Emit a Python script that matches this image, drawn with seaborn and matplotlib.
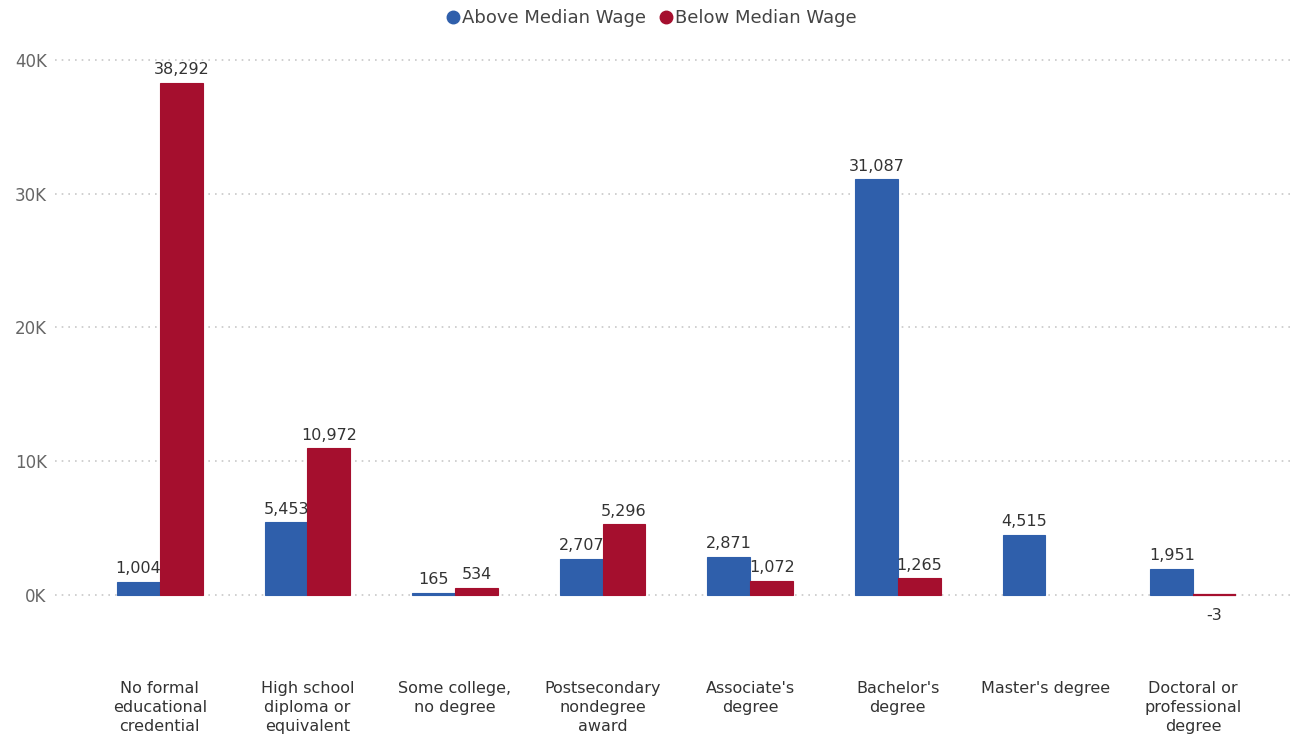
import numpy as np
import pandas as pd
import seaborn as sns
import matplotlib.pyplot as plt
from matplotlib.lines import Line2D

# chart data
categories = [
    "No formal\neducational\ncredential",
    "High school\ndiploma or\nequivalent",
    "Some college,\nno degree",
    "Postsecondary\nnondegree\naward",
    "Associate's\ndegree",
    "Bachelor's\ndegree",
    "Master's degree",
    "Doctoral or\nprofessional\ndegree",
]
above_median = [1004, 5453, 165, 2707, 2871, 31087, 4515, 1951]
below_median = [38292, 10972, 534, 5296, 1072, 1265, np.nan, -3]
series_names = ["Above Median Wage", "Below Median Wage"]
y_ticks = [0, 10000, 20000, 30000, 40000]
y_tick_labels = ["0K", "10K", "20K", "30K", "40K"]

blue = "#2F5FAB"
red = "#A50F2E"

df = pd.DataFrame({
    "category": categories * 2,
    "series": [series_names[0]] * len(categories) + [series_names[1]] * len(categories),
    "value": above_median + below_median,
})

sns.set_theme(style="white")
plt.rcParams["font.family"] = ["DejaVu Sans"]

fig = plt.figure(figsize=(12.96, 7.4), dpi=100)
ax = fig.add_axes([55 / 1296, 1 - 630 / 740, (1292 - 55) / 1296, (630 - 50) / 740])

sns.barplot(data=df, x="category", y="value", hue="series", order=categories,
            hue_order=series_names, palette=[blue, red], width=0.58, gap=0,
            saturation=1, errorbar=None, legend=False, ax=ax)

# edges in bar colour so tiny bars (like -3) still show as a thin line
for bar in ax.patches:
    bar.set_edgecolor(bar.get_facecolor())
    h = bar.get_height()
    bar.set_linewidth(1.6 if (not np.isnan(h) and abs(h) < 50) else 0.8)

ax.set_xlim(-0.71, 7.67)
ax.set_ylim(-35 * 74.77, 40000 + 10 * 74.77)
ax.set_yticks(y_ticks)
ax.set_yticklabels(y_tick_labels, color="#666666", fontsize=12)
for y in y_ticks:
    ax.axhline(y, color="#c8c8c8", linestyle=(0, (1, 3)), linewidth=1.2, zorder=0)
ax.tick_params(axis="x", length=0, pad=37, labelsize=11.5, labelcolor="#333333")
ax.tick_params(axis="y", length=0, pad=6)
for lbl in ax.get_xticklabels():
    lbl.set_linespacing(1.32)
ax.set_xlabel("")
ax.set_ylabel("")
for s in ax.spines.values():
    s.set_visible(False)

# value labels
for container in ax.containers:
    for bar in container:
        h = bar.get_height()
        if np.isnan(h):
            continue
        x = bar.get_x() + bar.get_width() / 2
        if h >= 0:
            ax.annotate(f"{h:,.0f}", (x, h), xytext=(0, 4), textcoords="offset points",
                        ha="center", va="bottom", fontsize=11.5, color="#333333")
        else:
            ax.annotate(f"{h:,.0f}", (x, h), xytext=(0, -9), textcoords="offset points",
                        ha="center", va="top", fontsize=11.5, color="#333333")

handles = [Line2D([], [], marker="o", linestyle="", markersize=9, color=c) for c in (blue, red)]
fig.legend(handles, series_names, loc="center", bbox_to_anchor=(650 / 1296, 1 - 18 / 740),
           ncol=2, frameon=False, fontsize=13, handletextpad=0.0, columnspacing=0.6,
           labelcolor="#444444", handlelength=1.0)

fig.savefig("out.png", dpi=100)
